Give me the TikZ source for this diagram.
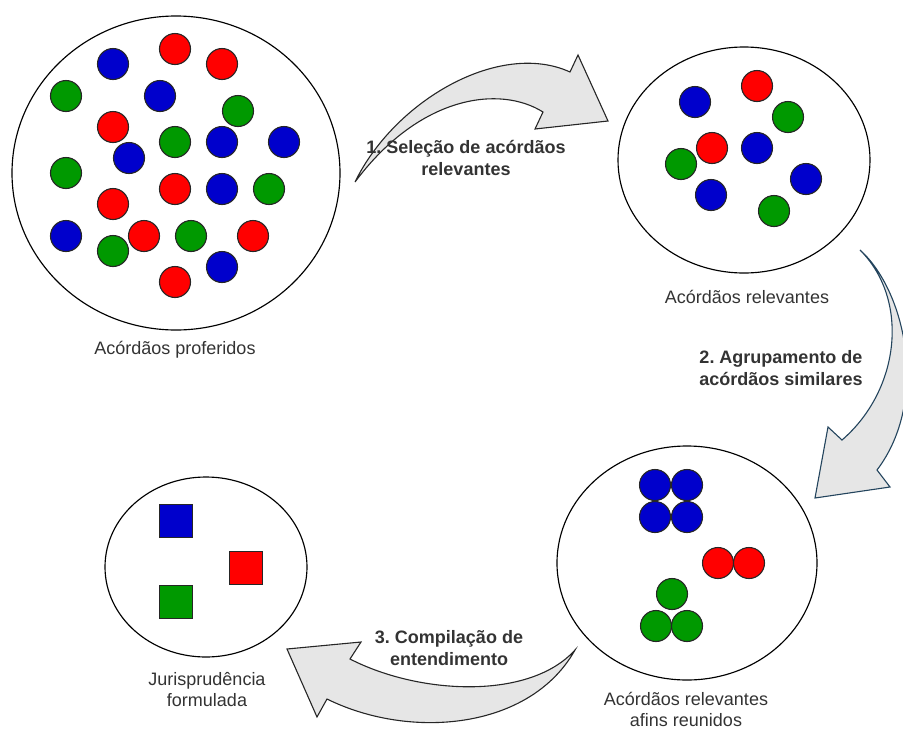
\documentclass[tikz,border=0pt]{standalone}
\usepackage{fontspec}
\setmainfont{Liberation Sans}
\definecolor{cred}{HTML}{FF0000}
\definecolor{cblue}{HTML}{0000CC}
\definecolor{cgreen}{HTML}{009900}
\definecolor{arrowfill}{HTML}{E6E6E6}
\definecolor{txt}{HTML}{333333}
\definecolor{slate}{HTML}{23445D}
\tikzset{
  group/.style={draw=black, line width=1.15pt, ellipse},
  ball/.style={draw=black!85, line width=1.1pt},
  R/.style={ball, fill=cred},
  B/.style={ball, fill=cblue},
  G/.style={ball, fill=cgreen},
  sq/.style={draw=black!85, line width=1.1pt, minimum size=33pt, inner sep=0pt},
  caption/.style={text=txt, font=\fontsize{18}{21}\selectfont, align=center},
  steplabel/.style={text=txt, font=\fontsize{18}{22}\selectfont\bfseries, align=center},
  bigarrow/.style={fill=arrowfill, draw=black!85, line width=1.1pt, line join=miter},
}
\usetikzlibrary{shapes.geometric}
\frenchspacing
\begin{document}
\begin{tikzpicture}[x=1pt, y=-1pt]
\useasboundingbox (0,0) rectangle (903,729);
\clip (0,0) rectangle (903,729);

% group outlines
\node[group, minimum width=328pt, minimum height=314pt] (all) at (176,173) {};
\node[group, minimum width=252pt, minimum height=226pt] (rel) at (744,160) {};
\node[group, minimum width=260pt, minimum height=234pt] (grp) at (687,563) {};
\node[group, minimum width=202pt, minimum height=180pt] (jur) at (206,567) {};

% decisions issued
\foreach \s/\x/\y in {R/175/49, R/222/64, B/113/64, G/66/96, B/160/96, G/238/111,
  R/113/127, G/175/142, B/222/142, B/284/142, B/129/158, G/66/173,
  R/175/189, B/222/189, G/269/189, R/113/204, B/66/236, G/113/251,
  R/144/236, G/191/236, R/253/236, B/222/267, R/175/282}
  \draw[\s] (\x,\y) circle (15.5);

% relevant decisions
\foreach \s/\x/\y in {B/695/102, R/757/86, G/788/117, R/712/148, B/757/148,
  G/681/164, B/806/179, B/711/195, G/774/211}
  \draw[\s] (\x,\y) circle (15.5);

% grouped decisions
\foreach \s/\x/\y in {B/655/485, B/687/485, B/655/517, B/687/517,
  R/718/563, R/749/563, G/672/594, G/656/626, G/687/626}
  \draw[\s] (\x,\y) circle (15.5);

% consolidated outcome
\node[sq, fill=cblue]  (qb) at (176,521) {};
\node[sq, fill=cred]   (qr) at (246,568) {};
\node[sq, fill=cgreen] (qg) at (176,602) {};

% captions
\node[caption] (c1) at (175,350) {Acórdãos proferidos};
\node[caption] (c2) at (747,297) {Acórdãos relevantes};
\node[caption] (c3) at (686,709) {Acórdãos relevantes\\afins reunidos};
\node[caption] (c4) at (207,690) {Jurisprudência\\formulada};

% step 1 arrow
\coordinate (t1) at (355,182);
\draw[bigarrow] (t1) .. controls (395,100) and (500,40) .. (570,72)
  -- (578,55) -- (608,121) -- (535,129) -- (543,112)
  .. controls (500,85) and (420,95) .. (t1) -- cycle;
\node[steplabel] (s1) at (466,158) {1. Seleção de acórdãos\\relevantes};

% step 2 arrow
\coordinate (t2) at (860,250);
\draw[bigarrow, draw=slate] (t2) .. controls (905,290) and (930,400) .. (877,470)
  -- (890,487) -- (815,498) -- (828,427) -- (842,440)
  .. controls (900,390) and (910,300) .. (t2) -- cycle;
\node[steplabel] (s2) at (781,368) {2. Agrupamento de\\acórdãos similares};

% step 3 arrow
\coordinate (t3) at (575,650);
\draw[bigarrow] (t3) .. controls (530,700) and (420,695) .. (350,659)
  -- (361,642) -- (287,649) -- (317,717) -- (327,699)
  .. controls (410,740) and (530,730) .. (t3) -- cycle;
\node[steplabel] (s3) at (449,648) {3. Compilação de\\entendimento};
\end{tikzpicture}
\end{document}
